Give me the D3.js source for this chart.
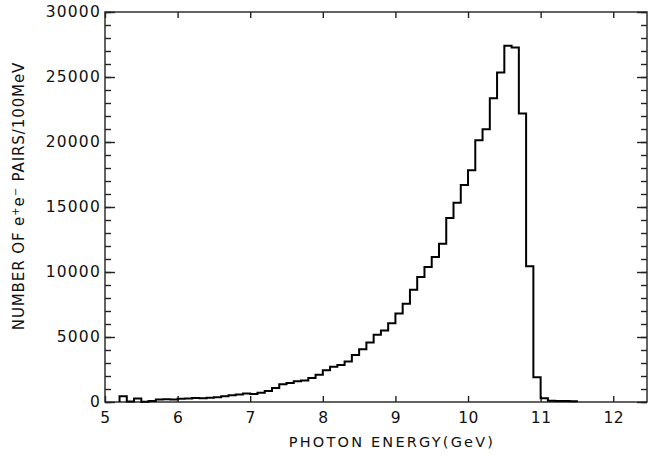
<!DOCTYPE html>
<html>
<head>
<meta charset="utf-8">
<script src="https://cdn.jsdelivr.net/npm/d3@7"></script>
<style>
  html, body { margin: 0; padding: 0; background: #fff; }
  svg { display: block; }
  text { font-family: "DejaVu Sans", "Liberation Sans", sans-serif; fill: #111; }
</style>
</head>
<body>
<svg id="chart" width="649" height="463"></svg>
<script>
// Histogram: photon energy bins of 100 MeV (lower edge, GeV) and counts
const binStarts = [5.2,5.3,5.4,5.5,5.6,5.7,5.8,5.9,6.0,6.1,6.2,6.3,6.4,6.5,6.6,6.7,6.8,6.9,
  7.0,7.1,7.2,7.3,7.4,7.5,7.6,7.7,7.8,7.9,8.0,8.1,8.2,8.3,8.4,8.5,8.6,8.7,8.8,8.9,
  9.0,9.1,9.2,9.3,9.4,9.5,9.6,9.7,9.8,9.9,10.0,10.1,10.2,10.3,10.4,10.5,10.6,10.7,10.8,10.9,
  11.0,11.1,11.2,11.3,11.4];
const counts = [450,30,260,20,80,200,210,200,250,260,300,290,330,370,440,510,570,650,
  620,720,850,1080,1370,1460,1600,1650,1850,2100,2450,2720,2850,3110,3620,4060,4570,5170,5500,6050,
  6800,7560,8640,9610,10390,11160,12180,14160,15320,16700,17820,20130,20980,23370,25350,27400,27270,22190,10440,1900,
  280,100,80,80,60];
const binWidth = 0.1;
const xTicks = [5,6,7,8,9,10,11,12];
const yTicks = [0,5000,10000,15000,20000,25000,30000];
const yMinorTicks = d3.range(0, 30001, 1000);
const xTitle = "PHOTON ENERGY(GeV)";

const svg = d3.select("#chart");
const mLeft = 105, mRight = 647, mTop = 12, mBottom = 402;
const x = d3.scaleLinear().domain([5, 12.465]).range([mLeft, mRight]);
const y = d3.scaleLinear().domain([0, 30000]).range([mBottom, mTop]);

const axisColor = "#222";

// frame
svg.append("rect").attr("x", mLeft).attr("y", mTop).attr("width", mRight-mLeft).attr("height", mBottom-mTop)
  .attr("fill", "none").attr("stroke", axisColor).attr("stroke-width", 1.4);

// bottom axis
const gB = svg.append("g").attr("transform", `translate(0,${mBottom})`)
  .call(d3.axisBottom(x).tickValues(xTicks).tickSizeInner(-6).tickSizeOuter(0).tickPadding(10).tickFormat(d3.format("d")));
gB.select(".domain").remove();
gB.selectAll("line").attr("stroke", axisColor).attr("stroke-width", 1.4);
gB.selectAll("text").attr("font-size", 15.5).attr("letter-spacing", 0.5).attr("fill", "#111");

// top axis ticks
const gT = svg.append("g").attr("transform", `translate(0,${mTop})`)
  .call(d3.axisTop(x).tickValues(xTicks).tickSizeInner(-6).tickSizeOuter(0).tickFormat(""));
gT.select(".domain").remove();
gT.selectAll("line").attr("stroke", axisColor).attr("stroke-width", 1.4);

// left axis minor + major
const gLm = svg.append("g").attr("transform", `translate(${mLeft},0)`)
  .call(d3.axisLeft(y).tickValues(yMinorTicks).tickSizeInner(-6).tickSizeOuter(0).tickFormat(""));
gLm.select(".domain").remove();
gLm.selectAll("line").attr("stroke", axisColor).attr("stroke-width", 1.4);
const gL = svg.append("g").attr("transform", `translate(${mLeft},0)`)
  .call(d3.axisLeft(y).tickValues(yTicks).tickSizeInner(-10).tickSizeOuter(0).tickPadding(4).tickFormat(d3.format("d")));
gL.select(".domain").remove();
gL.selectAll("line").attr("stroke", axisColor).attr("stroke-width", 1.4);
gL.selectAll("text").attr("font-size", 15.5).attr("letter-spacing", 1.2).attr("fill", "#111");

// right axis minor + major
const gRm = svg.append("g").attr("transform", `translate(${mRight},0)`)
  .call(d3.axisRight(y).tickValues(yMinorTicks).tickSizeInner(-6).tickSizeOuter(0).tickFormat(""));
gRm.select(".domain").remove();
gRm.selectAll("line").attr("stroke", axisColor).attr("stroke-width", 1.4);
const gR = svg.append("g").attr("transform", `translate(${mRight},0)`)
  .call(d3.axisRight(y).tickValues(yTicks).tickSizeInner(-10).tickSizeOuter(0).tickFormat(""));
gR.select(".domain").remove();
gR.selectAll("line").attr("stroke", axisColor).attr("stroke-width", 1.4);

// histogram step line
const pts = [{x: binStarts[0], v: 0}];
binStarts.forEach((b, i) => pts.push({x: b, v: counts[i]}));
pts.push({x: binStarts[binStarts.length-1] + binWidth, v: counts[counts.length-1]});
pts.push({x: binStarts[binStarts.length-1] + binWidth, v: 0});
const line = d3.line().x(d => x(d.x)).y(d => y(d.v)).curve(d3.curveStepAfter);
svg.append("path").datum(pts).attr("d", line)
  .attr("fill", "none").attr("stroke", "#000").attr("stroke-width", 2).attr("stroke-linejoin", "miter");

// x title
svg.append("text").attr("x", 392).attr("y", 447).attr("text-anchor", "middle")
  .attr("font-size", 14.5).attr("letter-spacing", 2.2).text(xTitle);

// y title with superscripts
const yt = svg.append("text").attr("transform", "translate(24,196) rotate(-90)")
  .attr("text-anchor", "middle").attr("font-size", 15).attr("letter-spacing", 0.9);
yt.append("tspan").text("NUMBER OF e");
yt.append("tspan").attr("baseline-shift", "super").attr("font-size", 10).text("+");
yt.append("tspan").text("e");
yt.append("tspan").attr("baseline-shift", "super").attr("font-size", 10).text("\u2212");
yt.append("tspan").text(" PAIRS/100MeV");
</script>
</body>
</html>
